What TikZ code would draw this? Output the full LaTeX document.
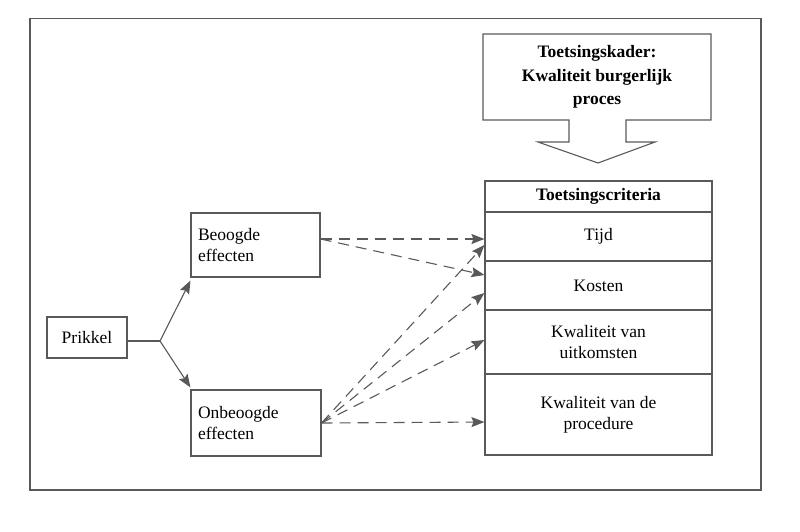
\documentclass[tikz,border=0pt]{standalone}
\usepackage{fontspec}
\setmainfont{Liberation Serif}
\usetikzlibrary{arrows.meta,calc}
\begin{document}
\begin{tikzpicture}[x=1pt,y=-1pt,line width=1.1pt,
  ln/.style={draw=black!65},
  txt/.style={font=\fontsize{17.5}{21}\selectfont},
  box/.style={ln,rectangle,inner sep=0pt,txt},
  crow/.style={box,minimum width=227pt,align=center},
  arr/.style={ln,-{Stealth[length=13pt,width=10pt,inset=2pt]}},
  darr/.style={arr,dash pattern=on 11pt off 7pt}
]
\useasboundingbox (0,0) rectangle (800,531);
\draw[ln] (30,18.5) rectangle (761,490);

% callout
\draw[ln] (483,34) -- (711,34) -- (711,120) -- (626,120) -- (626,142) -- (655,142)
  -- (598,163) -- (538,142) -- (569,142) -- (569,120) -- (483,120) -- cycle;
\node[font=\fontsize{17.5}{23.5}\selectfont\bfseries,align=center] (kader) at (597,77)
  {Toetsingskader:\\Kwaliteit burgerlijk\\proces};

% criteria table
\node[crow,minimum height=31pt,font=\fontsize{17.5}{21}\selectfont\bfseries] (head) at (598.5,196.5) {Toetsingscriteria};
\node[crow,minimum height=49pt] (tijd) at (598.5,236.5) {Tijd};
\node[crow,minimum height=49pt] (kosten) at (598.5,285.5) {Kosten};
\node[crow,minimum height=64pt] (kwu) at (598.5,342) {Kwaliteit van\\uitkomsten};
\node[crow,minimum height=81pt] (kwp) at (598.5,414.5) {Kwaliteit van de\\procedure};

% left boxes
\node[box,minimum width=80pt,minimum height=41pt] (prikkel) at (87,337.5) {Prikkel};
\node[box,minimum height=64pt,text width=115pt,inner xsep=7pt,align=left] (beo) at (255.5,245) {Beoogde\\effecten};
\node[box,minimum height=66pt,text width=116pt,inner xsep=7pt,align=left] (onb) at (256,423) {Onbeoogde\\effecten};

% fork
\coordinate (fork) at (160,341);
\draw[ln] (prikkel.east |- fork) -- (fork);
\draw[arr] (fork) -- ([yshift=-3pt]beo.south west);
\draw[arr] (fork) -- ([yshift=2pt]onb.north west);

% dashed arrows
\draw[darr] ([yshift=6pt]beo.east) -- ([yshift=-2.5pt]tijd.west);
\draw[darr] ([yshift=6pt]beo.east) -- ([yshift=10.5pt]kosten.west);
\draw[darr] (onb.east) -- ([yshift=-8.5pt]tijd.west);
\draw[darr] (onb.east) -- ([yshift=-7.5pt]kosten.west);
\draw[darr] (onb.east) -- ([yshift=2pt]kwu.west);
\draw[darr] (onb.east) -- ([yshift=-7.5pt]kwp.west);
\end{tikzpicture}
\end{document}
